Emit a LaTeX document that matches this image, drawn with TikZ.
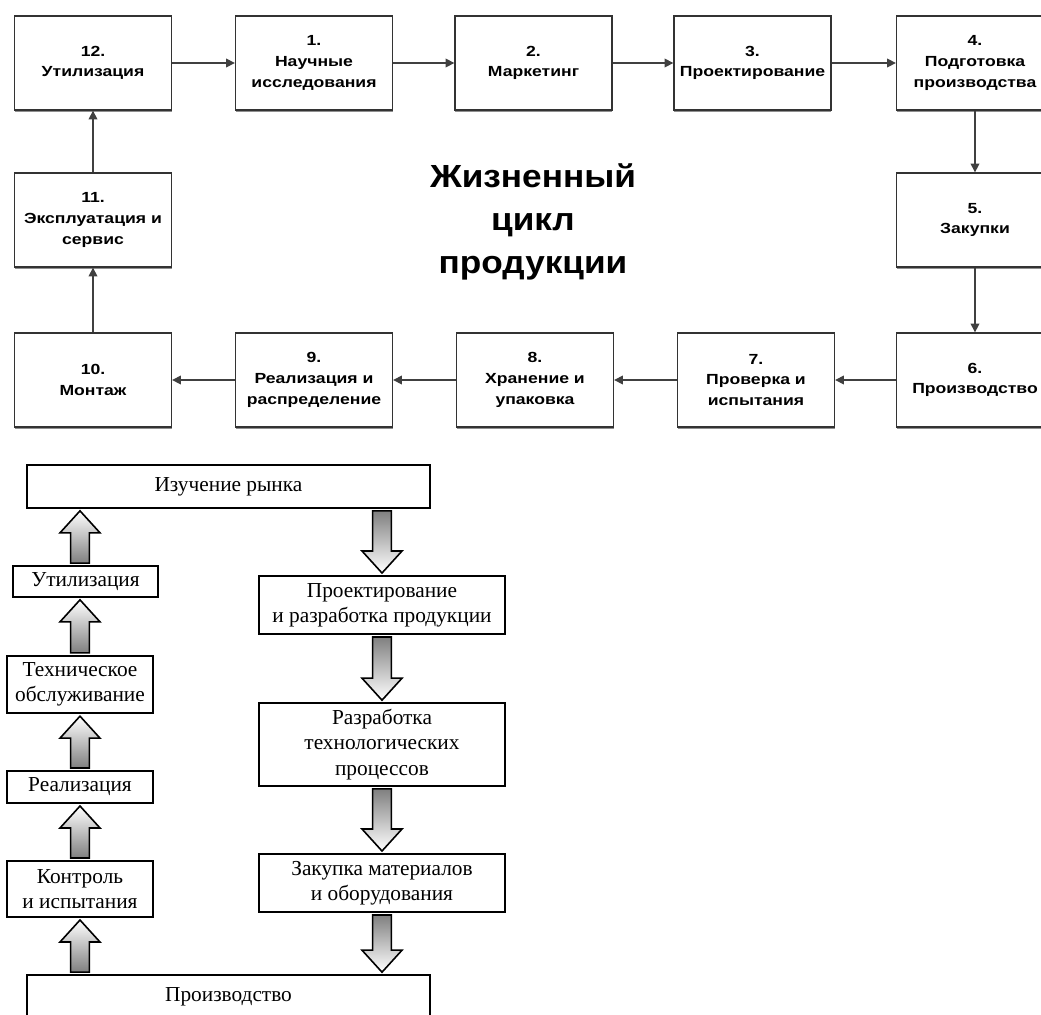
\documentclass[tikz,border=0pt]{standalone}
\usepackage{fontspec}
\setmainfont{Liberation Serif}
\newfontfamily\headfont[FakeStretch=1.2]{Liberation Sans}
\newfontfamily\titlefont[FakeStretch=1.1]{Liberation Sans}
\usetikzlibrary{arrows.meta,shadows,calc}

\tikzset{
  stage/.style={draw=black!80, line width=1pt, fill=white, align=center,
    minimum width=117.75pt, minimum height=70.5pt, inner sep=1pt,
    font={\headfont\bfseries\fontsize{11}{15.5}\selectfont},
    drop shadow={shadow xshift=0pt, shadow yshift=-1.5pt, fill=black!55, opacity=.8}},
  flow/.style={draw=black!75, line width=1pt, -{Triangle[length=6.5pt,width=6.5pt]}},
  phase/.style={draw=black, line width=1.5pt, align=center, inner sep=1pt,
    font={\fontsize{16}{19}\selectfont}},
  blockarr/.style={draw=black, line width=1.2pt}
}

%% gradient block arrows between the boxes of the lower scheme
\newcommand{\arrowup}[2]{%
  \shade[blockarr, top color=white, bottom color=black!50]
    let \p1=(#1), \p2=(#2) in
    (\x1-7pt,\y1+1.5pt) -- (\x1-7pt,\y2-18pt) -- (\x1-15pt,\y2-18pt)
    -- (\x1,\y2-1.5pt) -- (\x1+15pt,\y2-18pt) -- (\x1+7pt,\y2-18pt)
    -- (\x1+7pt,\y1+1.5pt) -- cycle;}
\newcommand{\arrowdown}[2]{%
  \shade[blockarr, top color=black!50, bottom color=white]
    let \p1=(#1), \p2=(#2) in
    (\x1-7pt,\y1-1.5pt) -- (\x1-7pt,\y2+18pt) -- (\x1-15pt,\y2+18pt)
    -- (\x1,\y2+1.5pt) -- (\x1+15pt,\y2+18pt) -- (\x1+7pt,\y2+18pt)
    -- (\x1+7pt,\y1-1.5pt) -- cycle;}

\begin{document}
\begin{tikzpicture}[x=0.75pt,y=-0.75pt]
    \useasboundingbox (0,0) rectangle (1041,1014);

    %% upper scheme: top row
    \node (b12) at (93,63) [stage] {12.\\Утилизация};
    \node (b1) at (314,63) [stage] {1.\\Научные\\исследования};
    \node (b2) at (533.5,63) [stage] {2.\\Маркетинг};
    \node (b3) at (752.5,63) [stage] {3.\\Проектирование};
    \node (b4) at (975,63) [stage] {4.\\Подготовка\\производства};

    %% middle row
    \node (b11) at (93,220) [stage] {11.\\Эксплуатация и\\сервис};
    \node (b5) at (975,220) [stage] {5.\\Закупки};

    %% bottom row
    \node (b10) at (93,380) [stage] {10.\\Монтаж};
    \node (b9) at (314,380) [stage] {9.\\Реализация и\\распределение};
    \node (b8) at (535,380) [stage] {8.\\Хранение и\\упаковка};
    \node (b7) at (756,380) [stage] {7.\\Проверка и\\испытания};
    \node (b6) at (975,380) [stage] {6.\\Производство};

    \node (title) at (533,222) [align=center,
      font={\titlefont\bfseries\fontsize{24}{32.5}\selectfont}] {Жизненный\\цикл\\продукции};

    \draw[flow] (b12) -- (b1);
    \draw[flow] (b1) -- (b2);
    \draw[flow] (b2) -- (b3);
    \draw[flow] (b3) -- (b4);
    \draw[flow] (b4) -- (b5);
    \draw[flow] (b5) -- (b6);
    \draw[flow] (b6) -- (b7);
    \draw[flow] (b7) -- (b8);
    \draw[flow] (b8) -- (b9);
    \draw[flow] (b9) -- (b10);
    \draw[flow] (b10) -- (b11);
    \draw[flow] (b11) -- (b12);

    %% lower scheme
    \node (study) at (228.5,486.5) [phase, minimum width=302pt, minimum height=32pt] {Изучение рынка};
    \node (util) at (85.5,581.5) [phase, minimum width=109pt, minimum height=23pt] {Утилизация};
    \node (serv) at (80,684.5) [phase, minimum width=109.5pt, minimum height=43pt] {Техническое\\обслуживание};
    \node (sale) at (80,787) [phase, minimum width=109.5pt, minimum height=24pt] {Реализация};
    \node (test) at (80,889) [phase, minimum width=109.5pt, minimum height=42pt] {Контроль\\и испытания};
    \node (prod) at (228.5,996.5) [phase, minimum width=302pt, minimum height=32pt] {Производство};

    \node (design) at (382,605) [phase, minimum width=184.5pt, minimum height=43.5pt] {Проектирование\\и разработка продукции};
    \node (tech) at (382,744.5) [phase, minimum width=184.5pt, minimum height=62pt] {Разработка\\технологических\\процессов};
    \node (supply) at (382,883) [phase, minimum width=184.5pt, minimum height=43.5pt] {Закупка материалов\\и оборудования};

    \coordinate (lcol) at (80,0);

    \arrowup{util.north -| lcol}{study.south -| lcol}
    \arrowup{serv.north}{util.south -| lcol}
    \arrowup{sale.north}{serv.south}
    \arrowup{test.north}{sale.south}
    \arrowup{prod.north -| lcol}{test.south}

    \arrowdown{study.south -| design}{design.north}
    \arrowdown{design.south}{tech.north}
    \arrowdown{tech.south}{supply.north}
    \arrowdown{supply.south}{prod.north -| supply}
\end{tikzpicture}
\end{document}
